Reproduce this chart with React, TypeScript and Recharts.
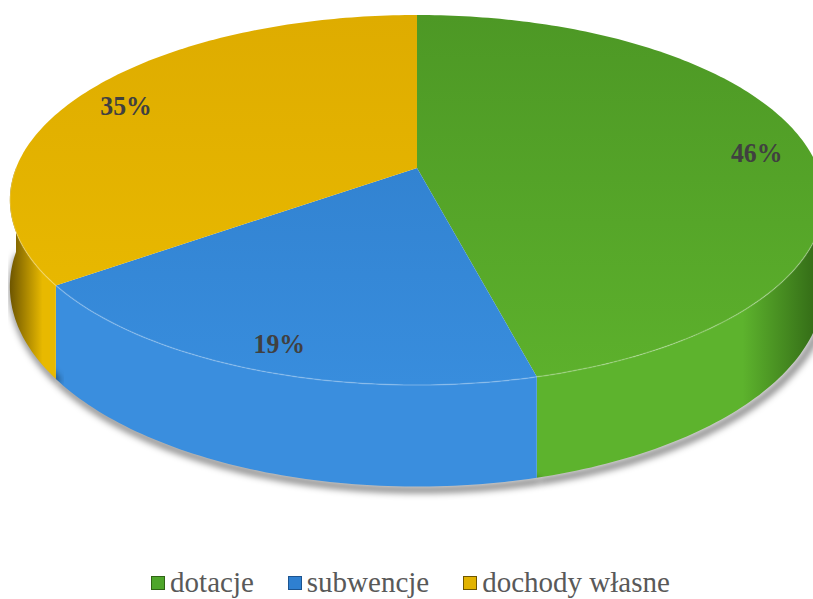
import React from "react";
import { PieChart, Pie, Cell, Legend } from "recharts";

const CATEGORIES = ["dotacje", "subwencje", "dochody własne"];
const SHARES = [46, 19, 35];

const TOP_FROM = ["#4d9825", "#2e7cc9", "#deac00"];
const TOP_TO = ["#5db12c", "#388ddd", "#ebbc00"];
const WALL = ["#5db32d", "#3a8ede", "#e8b900"];
const WALL_EDGE = ["#2f6414", "#1c5490", "#6e5600"];
const KEY = ["#4ea62a", "#2f80d1", "#e2b300"];

const data = CATEGORIES.map((name, i) => ({ name, value: SHARES[i] }));

const W = 813;
const H = 599;
const CX = 417;
const CY = 168;
const RX = 401; // horizontal radius of the disc
const SQUASH = 0.4476; // vertical / horizontal radius
const K = 0.173; // perspective strength
const DEPTH = 84;
const LABEL_R = 0.87;
const FONT = '"Liberation Serif", "Times New Roman", serif';

function proj(cx: number, cy: number, r: number, deg: number, t: number) {
  const a = (deg * Math.PI) / 180;
  const c = Math.cos(a);
  const s = Math.sin(a);
  const w = 1 + K * t * s;
  return [cx + (r * t * c) / w, cy - (r * SQUASH * t * s) / w, w];
}

function arcPoints(cx: number, cy: number, r: number, a: number, b: number) {
  const n = Math.max(2, Math.ceil(Math.abs(b - a)));
  const pts: number[][] = [];
  for (let k = 0; k <= n; k++) pts.push(proj(cx, cy, r, a + ((b - a) * k) / n, 1));
  return pts;
}

const toD = (pts: number[][]) => pts.map((p, k) => `${k ? "L" : "M"}${p[0].toFixed(2)},${p[1].toFixed(2)}`).join(" ");

function Slice3D(props: any) {
  const { cx, cy, outerRadius, startAngle, endAngle } = props;
  const name = props.payload?.name ?? props.name;
  const i = Math.max(0, CATEGORIES.indexOf(name));

  const top = arcPoints(cx, cy, outerRadius, startAngle, endAngle);
  const topD = `M${cx},${cy} ` + toD(top).replace("M", "L") + " Z";

  // front half of the rim: (-180, 0) + 360k
  const lo = Math.min(startAngle, endAngle);
  const hi = Math.max(startAngle, endAngle);
  const walls: number[][] = [];
  for (let k = -2; k <= 2; k++) {
    const a = Math.max(lo, -180 + 360 * k);
    const b = Math.min(hi, 360 * k);
    if (a < b) walls.push([a, b]);
  }

  return (
    <g>
      {walls.map(([a, b], j) => {
        const up = arcPoints(cx, cy, outerRadius, a, b);
        const down = up.map((p) => [p[0], p[1] + DEPTH / p[2]]);
        const shadow = toD(down);
        const wallD = toD(up) + " " + toD(down.slice().reverse()).replace("M", "L") + " Z";
        return (
          <g key={j}>
            <path d={shadow} fill="none" stroke="#000" strokeOpacity={0.55} strokeWidth={6} filter="url(#soft)" transform="translate(3,3)" />
            <path d={wallD} fill={`url(#wall-${i})`} />
          </g>
        );
      })}
      <path d={topD} fill={`url(#top-${i})`} />
      {walls.map(([a, b], j) => (
        <path key={j} d={toD(arcPoints(cx, cy, outerRadius, a, b))} fill="none" stroke="#ffffff" strokeOpacity={0.22} strokeWidth={1.5} />
      ))}
    </g>
  );
}

function renderLabel(p: any) {
  const [x, y] = proj(p.cx, p.cy, p.outerRadius, p.midAngle, LABEL_R);
  return (
    <text
      x={0}
      y={0}
      transform={`translate(${x.toFixed(1)},${(y + 4).toFixed(1)}) scale(0.92,1)`}
      textAnchor="middle"
      dominantBaseline="central"
      fill="#404040"
      fontFamily={FONT}
      fontWeight="bold"
      fontSize={28}
    >
      {`${Math.round(p.percent * 100)}%`}
    </text>
  );
}

function LegendContent({ payload }: any) {
  const seen = new Set<string>();
  const items = (payload || [])
    .filter((e: any) => {
      if (seen.has(e.value)) return false;
      seen.add(e.value);
      return true;
    })
    .sort((a: any, b: any) => CATEGORIES.indexOf(a.value) - CATEGORIES.indexOf(b.value));
  return (
    <div style={{ display: "flex", justifyContent: "center", gap: 34, fontFamily: FONT, fontSize: 29, color: "#595959", lineHeight: "38px", paddingLeft: 8 }}>
      {items.map((e: any) => {
        const i = CATEGORIES.indexOf(e.value);
        return (
          <span key={e.value} style={{ display: "inline-flex", alignItems: "center" }}>
            <span style={{ width: 12, height: 12, background: KEY[i], border: `1px solid ${WALL_EDGE[i]}`, marginRight: 5, marginTop: 2 }} />
            {e.value}
          </span>
        );
      })}
    </div>
  );
}

export default function App() {
  return (
    <div style={{ position: "absolute", left: 0, top: 0, width: W, height: H, background: "#fff" }}>
      <PieChart width={W} height={H} margin={{ top: 0, right: 0, bottom: 0, left: 0 }}>
        <defs>
          <filter id="soft" x="-10%" y="-50%" width="120%" height="200%">
            <feGaussianBlur stdDeviation={3.5} />
          </filter>
          {CATEGORIES.map((_, i) => (
            <linearGradient key={`t${i}`} id={`top-${i}`} gradientUnits="userSpaceOnUse" x1={0} y1={15} x2={0} y2={385}>
              <stop offset="0%" stopColor={TOP_FROM[i]} />
              <stop offset="100%" stopColor={TOP_TO[i]} />
            </linearGradient>
          ))}
          {CATEGORIES.map((_, i) => (
            <linearGradient key={`w${i}`} id={`wall-${i}`} gradientUnits="userSpaceOnUse" x1={10} y1={0} x2={824} y2={0}>
              <stop offset="0%" stopColor={WALL_EDGE[i]} />
              <stop offset="4%" stopColor={WALL[i]} />
              <stop offset="90%" stopColor={WALL[i]} />
              <stop offset="100%" stopColor={WALL_EDGE[i]} />
            </linearGradient>
          ))}
        </defs>
        <Pie
          data={data}
          dataKey="value"
          nameKey="name"
          cx={CX}
          cy={CY}
          outerRadius={RX}
          startAngle={90}
          endAngle={-270}
          stroke="none"
          shape={Slice3D}
          label={renderLabel}
          labelLine={false}
          isAnimationActive={false}
        >
          {data.map((d, i) => (
            <Cell key={d.name} fill={KEY[i]} />
          ))}
        </Pie>
        <Legend content={<LegendContent />} itemSorter={null as any} wrapperStyle={{ top: 563, left: 0, width: W }} />
      </PieChart>
    </div>
  );
}
